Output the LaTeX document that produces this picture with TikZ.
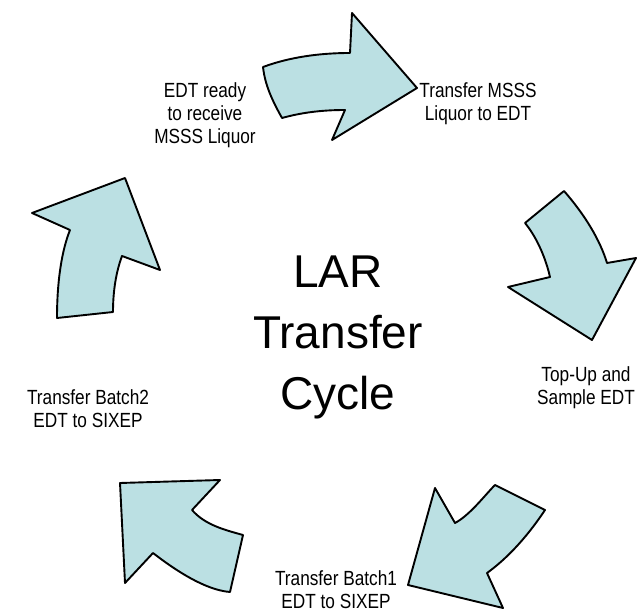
\documentclass[tikz,border=0pt]{standalone}
\usepackage{fontspec}
\setmainfont{Liberation Sans}
\newfontfamily\labelfont[FakeStretch=0.84]{Liberation Sans}
\definecolor{arrowfill}{RGB}{187,224,227}
\begin{document}
\begin{tikzpicture}[x=1pt,y=-1pt,
  bigarrow/.style={draw=black,fill=arrowfill,line width=1.9pt,line join=round},
  steplabel/.style={align=center,inner sep=0pt,font=\labelfont\fontsize{20.5}{23}\selectfont},
  titlelabel/.style={align=center,inner sep=0pt,font=\fontsize{46}{61}\selectfont}]
\useasboundingbox (0,0) rectangle (637,612);
% arrow 1 (top, pointing right)
\draw[bigarrow] (263,67) .. controls (290,57) and (320,53) .. (350,53)
  -- (352,13) -- (417,88) -- (332,140) -- (345,110)
  .. controls (320,110) and (300,113) .. (282,118)
  .. controls (272,100) and (265,85) .. cycle;
% arrow 2 (right, pointing down)
\draw[bigarrow] (525,223) -- (564,191)
  .. controls (585,215) and (600,240) .. (607,263)
  -- (636,258) -- (592,340) -- (508,287) -- (550,277)
  .. controls (545,255) and (535,235) .. cycle;
% arrow 3 (bottom right, pointing down-left)
\draw[bigarrow] (495,485) -- (545,510)
  .. controls (525,540) and (505,560) .. (487,573)
  -- (503,608) -- (408,585) -- (435,488) -- (455,523)
  .. controls (470,515) and (485,495) .. cycle;
% arrow 4 (bottom left, pointing up-left)
\draw[bigarrow] (120,483) -- (220,480) -- (192,510)
  .. controls (205,525) and (225,530) .. (243,535)
  -- (230,592) .. controls (205,590) and (175,570) .. (153,553)
  -- (125,583) -- cycle;
% arrow 5 (left, pointing up)
\draw[bigarrow] (125,178) -- (160,270) -- (122,256)
  .. controls (115,275) and (113,295) .. (113,312)
  -- (57,318) .. controls (57,280) and (62,250) .. (70,230)
  -- (32,213) -- cycle;
% labels
\node[steplabel] (t1) at (205,115) {EDT ready\\to receive\\MSSS Liquor};
\node[steplabel] (t2) at (478,104) {Transfer MSSS\\Liquor to EDT};
\node[steplabel] (t3) at (586,388) {Top-Up and\\Sample EDT};
\node[steplabel] (t4) at (336,590) {Transfer Batch1\\EDT to SIXEP};
\node[steplabel] (t5) at (88,409) {Transfer Batch2\\EDT to SIXEP};
\node[titlelabel] (c) at (338,337) {LAR\\Transfer\\Cycle};
\end{tikzpicture}
\end{document}
